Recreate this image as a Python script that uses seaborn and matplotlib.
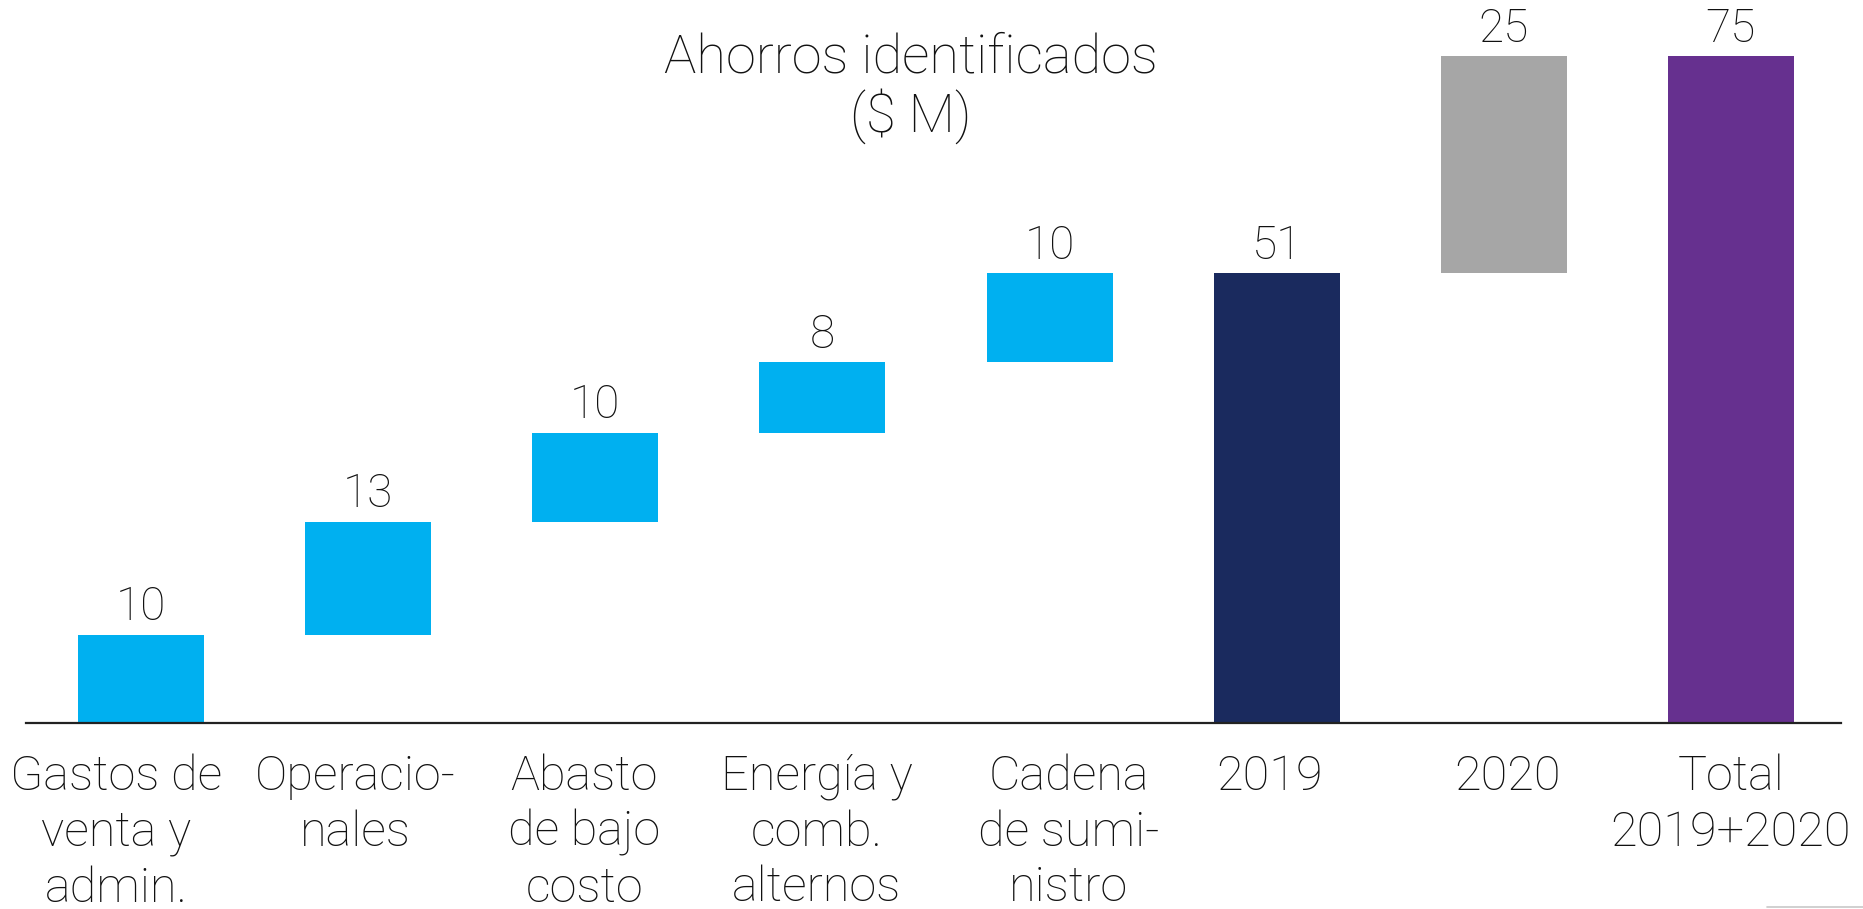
import matplotlib
matplotlib.use("Agg")
import matplotlib.pyplot as plt
import matplotlib.transforms as mtransforms
from matplotlib.lines import Line2D
import seaborn as sns
import pandas as pd

categories = ["Gastos de\nventa y\nadmin.", "Operacio-\nnales", "Abasto\nde bajo\ncosto",
              "Energía y\ncomb.\nalternos", "Cadena\nde sumi-\nnistro", "2019", "2020",
              "Total\n2019+2020"]
values = [10.0, 12.8, 10.1, 8.0, 10.1, 51.0, 24.6, 75.6]
bottoms = [0.0, 10.0, 22.8, 32.9, 40.9, 0.0, 51.0, 0.0]
value_labels = ["10", "13", "10", "8", "10", "51", "25", "75"]
bar_colors = ["#00B0F0"] * 5 + ["#1A2A5E", "#A6A6A6", "#66308F"]
title = "Ahorros identificados\n($ M)"

# horizontal nudges of the category labels, in pixels (layout only)
label_dx_px = [-25, -13, -11, -6, 19, -7, 4, 0]

sns.set_theme(style="white")
plt.rcParams["font.family"] = ["Roboto", "DejaVu Sans"]

df = pd.DataFrame({"cat": categories,
                   "top": [b + v for b, v in zip(bottoms, values)],
                   "bottom": bottoms})

fig = plt.figure(figsize=(18.63, 9.09), dpi=100)
ax = fig.add_axes([26 / 1863, 186 / 909, (1841 - 26) / 1863, 723 / 909])

sns.barplot(data=df, x="cat", y="top", hue="cat", palette=bar_colors, legend=False,
            width=0.555, linewidth=0, ax=ax, saturation=1)
sns.barplot(data=df, x="cat", y="bottom", color="white", width=0.57, linewidth=0,
            ax=ax, saturation=1)

ax.set_ylim(0, 82.0)
ax.set_xlim(-0.507, 7.485)
ax.set_xlabel("")
ax.set_ylabel("")
ax.set_yticks([])
for s in ["top", "right", "left"]:
    ax.spines[s].set_visible(False)
ax.spines["bottom"].set_color("#222222")
ax.spines["bottom"].set_linewidth(1.6)
ax.spines["bottom"].set_zorder(5)
ax.tick_params(axis="x", length=0, pad=22)
ax.set_xticks(range(len(categories)))
ax.set_xticklabels(categories, fontsize=35, fontweight="light", color="#111111",
                   linespacing=1.25, va="top")
for lab, dx in zip(ax.get_xticklabels(), label_dx_px):
    lab.set_transform(lab.get_transform() +
                      mtransforms.ScaledTranslation(dx / 100, 0, fig.dpi_scale_trans))

for i, (b, v, lab) in enumerate(zip(bottoms, values, value_labels)):
    ax.annotate(lab, (i, b + v), xytext=(0, 4), textcoords="offset points",
                ha="center", va="bottom", fontsize=33, fontweight="light", color="#111111")

fig.text(911 / 1863, 1 - 32 / 909, title, ha="center", va="top", fontsize=39,
         fontweight="light", color="#111111", linespacing=1.1)

fig.add_artist(Line2D([1767 / 1863, 1.0], [1 - 907 / 909, 1 - 907 / 909],
                      transform=fig.transFigure, color="#C8C8C8", linewidth=1.2))

fig.savefig("out.png", dpi=100, facecolor="white")
